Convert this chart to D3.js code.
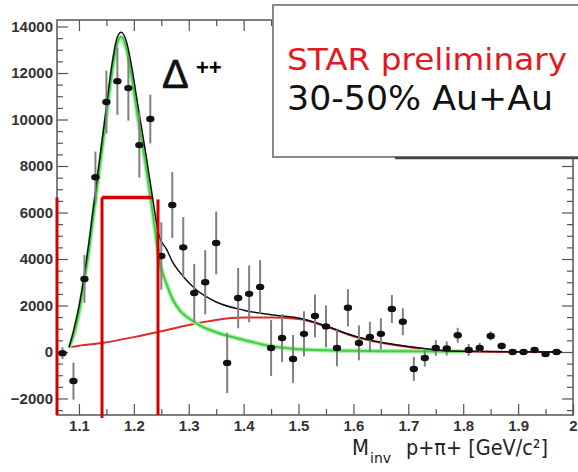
<!DOCTYPE html>
<html>
<head>
<meta charset="utf-8">
<script src="https://cdn.jsdelivr.net/npm/d3@7"></script>
<style>
  body { margin: 0; background: #fff; }
  svg { display: block; }
  .tick text { font-family: "Liberation Sans", Arial, sans-serif; font-size: 15px; font-weight: bold; fill: #333; }
  .tick line { stroke: #555; stroke-width: 1.2; }
</style>
</head>
<body>
<svg id="chart" width="578" height="472"></svg>
<script>
//======= data =======//
let massBins = [1.07, 1.09, 1.11, 1.13, 1.15, 1.17, 1.19, 1.21, 1.23, 1.25, 1.27, 1.29, 1.31, 1.33, 1.35, 1.37,
  1.39, 1.41, 1.43, 1.45, 1.47, 1.49, 1.51, 1.53, 1.55, 1.57, 1.59, 1.61, 1.63, 1.65, 1.67, 1.69, 1.71,
  1.73, 1.75, 1.77, 1.79, 1.81, 1.83, 1.85, 1.87, 1.89, 1.91, 1.93, 1.95, 1.97];
let counts = [-50, -1250, 3140, 7520, 10750, 11650, 11350, 8900, 10020, 4130, 6320, 4500, 2540, 3000, 4690, -470,
  2320, 2500, 2800, 170, 600, -300, 780, 1550, 1100, 170, 1900, 390, 650, 780, 1850, 1300, -730,
  -260, 170, 150, 720, 90, 170, 690, 260, 0, 0, 86, -90, 0];
let errors = [250, 800, 1030, 1100, 1350, 1450, 1400, 1400, 1050, 1450, 1420, 1300, 1250, 1380, 1350, 1300,
  1300, 1220, 1150, 1200, 1030, 1030, 970, 920, 900, 780, 800, 750, 650, 670, 600, 580, 520,
  370, 340, 300, 320, 260, 220, 200, 150, 100, 100, 100, 100, 100];

// Breit-Wigner signal (green)
let sigMass = [1.082, 1.09, 1.10, 1.11, 1.12, 1.127, 1.138, 1.149, 1.16, 1.17, 1.177, 1.187, 1.195, 1.208,
  1.222, 1.235, 1.246, 1.26, 1.27, 1.285, 1.30, 1.32, 1.35, 1.40, 1.45, 1.50, 1.55, 1.60, 1.70, 1.80];
let sigVal = [200, 700, 1700, 3100, 4700, 6000, 8000, 10000, 12000, 13300, 13550, 13000, 12000, 10000,
  8000, 5900, 4000, 2900, 2300, 1750, 1450, 1150, 850, 520, 250, 120, 70, 50, 30, 20];

// background (red)
let bkgMass = [1.082, 1.10, 1.142, 1.20, 1.244, 1.30, 1.35, 1.40, 1.45, 1.50, 1.55, 1.60, 1.65, 1.70, 1.75, 1.80, 1.90, 1.98];
let bkgVal = [200, 270, 390, 640, 860, 1160, 1380, 1480, 1480, 1420, 1100, 680, 400, 220, 80, 20, 0, 0];

// total fit (black)
let totMass = [1.082, 1.09, 1.10, 1.11, 1.12, 1.127, 1.138, 1.149, 1.16, 1.17, 1.177, 1.187, 1.195, 1.208,
  1.222, 1.235, 1.246, 1.26, 1.27, 1.29, 1.31, 1.35, 1.40, 1.45, 1.50, 1.55, 1.60, 1.65, 1.70, 1.75, 1.80, 1.90, 1.98];
let totVal = [200, 900, 1950, 3350, 5050, 6350, 8350, 10350, 12350, 13550, 13750, 13300, 12400, 10500,
  8500, 6500, 5000, 4400, 3900, 3250, 2750, 2150, 1800, 1600, 1460, 1120, 700, 420, 240, 90, 30, 10, 0];

let xTicks = [1.1, 1.2, 1.3, 1.4, 1.5, 1.6, 1.7, 1.8, 1.9, 2.0];
let xMinor = [1.15, 1.25, 1.35, 1.45, 1.55, 1.65, 1.75, 1.85, 1.95];
let yTicks = [-2000, 0, 2000, 4000, 6000, 8000, 10000, 12000, 14000];
let yMinor = [-2500, -1500, -1000, -500, 500, 1000, 1500, 2500, 3000, 3500, 4500, 5000, 5500, 6500, 7000, 7500,
  8500, 9000, 9500, 10500, 11000, 11500, 12500, 13000, 13500];

// mass window marked in red
let windowEdges = [1.142, 1.244];
let windowCap = [1.142, 1.233];
let windowTop = 6650;

//======= chart setup =======//
let width = 578;
let height = 472;
let margin = { top: 20, right: 5, bottom: 57, left: 57 };
let plotW = width - margin.left - margin.right;
let plotH = height - margin.top - margin.bottom;

let svg = d3.select('#chart');
let g = svg.append('g')
  .attr('transform', 'translate(' + margin.left + ',' + margin.top + ')');

let x = d3.scaleLinear().domain([1.06, 2.0]).range([0, plotW]);
let y = d3.scaleLinear().domain([-2710, 14280]).range([plotH, 0]);

//======= axes =======//
function addAxis(axis, transform) {
  let a = g.append('g').attr('transform', transform || null).call(axis);
  a.select('.domain').remove();
  return a;
}

addAxis(d3.axisBottom(x).tickValues(xTicks).tickSizeInner(-11).tickSizeOuter(0).tickPadding(5)
  .tickFormat(d3.format('~g')), 'translate(0,' + plotH + ')');
addAxis(d3.axisBottom(x).tickValues(xMinor).tickSize(-6).tickFormat(''), 'translate(0,' + plotH + ')');
addAxis(d3.axisTop(x).tickValues(xTicks).tickSize(-11).tickFormat(''));
addAxis(d3.axisTop(x).tickValues(xMinor).tickSize(-6).tickFormat(''));

addAxis(d3.axisLeft(y).tickValues(yTicks).tickSizeInner(-11).tickSizeOuter(0).tickPadding(4)
  .tickFormat(d => d < 0 ? '\u2212' + Math.abs(d) : d));
addAxis(d3.axisLeft(y).tickValues(yMinor).tickSize(-6).tickFormat(''));
addAxis(d3.axisRight(y).tickValues(yTicks).tickSize(-11).tickFormat(''), 'translate(' + plotW + ',0)');
addAxis(d3.axisRight(y).tickValues(yMinor).tickSize(-6).tickFormat(''), 'translate(' + plotW + ',0)');

g.append('rect')
  .attr('width', plotW)
  .attr('height', plotH)
  .attr('fill', 'none')
  .attr('stroke', '#555')
  .attr('stroke-width', 1.5);

//======= fit curves =======//
function curve(ms, vs) {
  return d3.line()
    .curve(d3.curveMonotoneX)
    .x(function (d, i) { return x(ms[i]); })
    .y(function (d, i) { return y(vs[i]); })(vs);
}

g.append('path').attr('d', curve(bkgMass, bkgVal))
  .attr('fill', 'none').attr('stroke', '#e02a2a').attr('stroke-width', 2);
g.append('path').attr('d', curve(sigMass, sigVal))
  .attr('fill', 'none').attr('stroke', '#a8eea8').attr('stroke-width', 4.5);
g.append('path').attr('d', curve(sigMass, sigVal))
  .attr('fill', 'none').attr('stroke', '#3fd03f').attr('stroke-width', 2);
g.append('path').attr('d', curve(totMass, totVal))
  .attr('fill', 'none').attr('stroke', '#111').attr('stroke-width', 1.5);

//======= data points =======//
let pts = g.append('g');
pts.selectAll('line')
  .data(counts)
  .enter()
  .append('line')
  .attr('x1', function (d, i) { return x(massBins[i]); })
  .attr('x2', function (d, i) { return x(massBins[i]); })
  .attr('y1', function (d, i) { return y(d - errors[i]); })
  .attr('y2', function (d, i) { return y(d + errors[i]); })
  .attr('stroke', '#808080')
  .attr('stroke-width', 2);

pts.selectAll('ellipse')
  .data(counts)
  .enter()
  .append('ellipse')
  .attr('cx', function (d, i) { return x(massBins[i]); })
  .attr('cy', function (d) { return y(d); })
  .attr('rx', 4.2)
  .attr('ry', 3.2)
  .attr('fill', '#111');

//======= red mass window =======//
let red = '#d40000';
g.append('line')
  .attr('x1', x(1.06)).attr('x2', x(1.06))
  .attr('y1', y(windowTop)).attr('y2', plotH)
  .attr('stroke', red).attr('stroke-width', 3);
windowEdges.forEach(function (m, i) {
  g.append('line')
    .attr('x1', x(m)).attr('x2', x(m))
    .attr('y1', y(windowTop) + i * 2).attr('y2', plotH + (i ? 0 : 3))
    .attr('stroke', red).attr('stroke-width', 3);
});
g.append('line')
  .attr('x1', x(windowCap[0])).attr('x2', x(windowCap[1]))
  .attr('y1', y(windowTop)).attr('y2', y(windowTop))
  .attr('stroke', red).attr('stroke-width', 3.5);

//======= labels =======//
svg.append('text')
  .attr('x', 162).attr('y', 88)
  .style('font-family', '"Liberation Sans", Arial, sans-serif')
  .style('font-size', '40px')
  .style('fill', '#111')
  .style('stroke', '#111')
  .style('stroke-width', 0.6)
  .text('\u0394');
svg.append('text')
  .attr('x', 196).attr('y', 75)
  .style('font-family', '"Liberation Sans", Arial, sans-serif')
  .style('font-size', '22px')
  .style('font-weight', 'bold')
  .text('++');

let axisLabel = svg.append('g')
  .style('font-family', '"DejaVu Sans", sans-serif')
  .style('fill', '#222');
axisLabel.append('text').attr('x', 352).attr('y', 455).style('font-size', '21px')
  .attr('textLength', 17).attr('lengthAdjust', 'spacingAndGlyphs').text('M');
axisLabel.append('text').attr('x', 370).attr('y', 463).style('font-size', '14px').text('inv');
axisLabel.append('text').attr('x', 406).attr('y', 455).style('font-size', '21px')
  .attr('textLength', 142).attr('lengthAdjust', 'spacingAndGlyphs')
  .text('p+\u03c0+ [GeV/c\u00b2]');

//======= legend box =======//
svg.append('rect')
  .attr('x', 273).attr('y', 5)
  .attr('width', 330).attr('height', 152)
  .attr('fill', '#fff')
  .attr('stroke', '#888')
  .attr('stroke-width', 2);
svg.append('line')
  .attr('x1', 395).attr('x2', 578)
  .attr('y1', 158).attr('y2', 158)
  .attr('stroke', '#444').attr('stroke-width', 2.5);

svg.append('text')
  .attr('x', 287).attr('y', 70)
  .style('font-family', '"DejaVu Sans", sans-serif')
  .style('font-size', '31px')
  .style('fill', '#e3191f')
  .attr('textLength', 280).attr('lengthAdjust', 'spacingAndGlyphs')
  .text('STAR preliminary');
svg.append('text')
  .attr('x', 287).attr('y', 110)
  .style('font-family', '"DejaVu Sans", sans-serif')
  .style('font-size', '33px')
  .style('fill', '#111')
  .attr('textLength', 266).attr('lengthAdjust', 'spacingAndGlyphs')
  .text('30-50% Au+Au');
</script>
</body>
</html>
